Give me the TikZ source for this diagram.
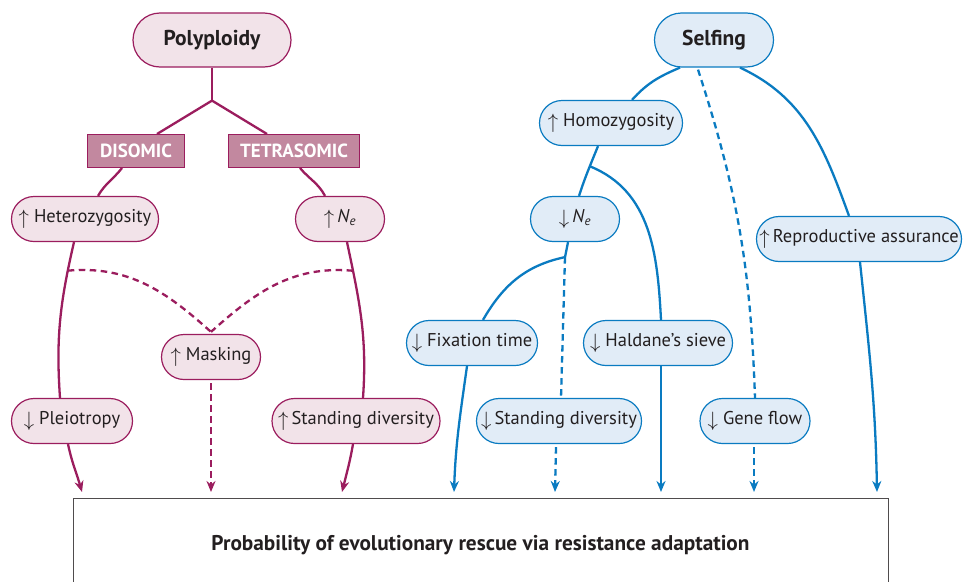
\documentclass[tikz,border=0pt]{standalone}
\usepackage{fontspec}
\setmainfont{PT Sans}
\usetikzlibrary{arrows.meta,shapes.misc}
\definecolor{plum}{HTML}{9B1D5E}
\definecolor{rose}{HTML}{C2889F}
\definecolor{pinkbg}{HTML}{F2E3E9}
\definecolor{sky}{HTML}{0A7BC1}
\definecolor{bluebg}{HTML}{E1ECF7}
\definecolor{ink}{HTML}{231F20}
\newcommand{\upar}{\raisebox{-1.5pt}{\fontsize{22}{22}\selectfont$\uparrow$}}
\newcommand{\dnar}{\raisebox{-1.5pt}{\fontsize{22}{22}\selectfont$\downarrow$}}
\newcommand{\Ne}{\textit{N}\textsubscript{\textit{e}}}

\begin{document}
\begin{tikzpicture}[x=1pt,y=1pt,
    pill/.style={rounded rectangle, draw, line width=1.2pt, minimum height=45pt,
      inner xsep=3pt, text=ink, font=\fontsize{18.5}{21}\selectfont},
    pinkpill/.style={pill, draw=plum, fill=pinkbg},
    bluepill/.style={pill, draw=sky, fill=bluebg},
    tag/.style={draw=plum, fill=rose, line width=1pt, minimum height=33pt,
      text=white, font=\fontsize{19}{21}\selectfont\bfseries},
    pinkline/.style={draw=plum, line width=2.3pt},
    blueline/.style={draw=sky, line width=2.3pt},
    tip/.style={-{Stealth[length=11pt,width=9pt,inset=3.5pt]}},
    dashline/.style={dash pattern=on 6.5pt off 4.5pt}]
  \useasboundingbox (0,0) rectangle (966,-581);

  % polyploidy side
  \node[pinkpill, minimum width=164pt, minimum height=54pt, font=\fontsize{21.5}{24}\selectfont\bfseries] (poly) at (212,-40) {Polyploidy};
  \node[tag, minimum width=97pt] (dis) at (136,-151) {DISOMIC};
  \node[tag, minimum width=131pt] (tetra) at (294,-151) {TETRASOMIC};
  \node[pinkpill, minimum width=153pt] (het) at (85,-219) {\upar\ Heterozygosity};
  \node[pinkpill, minimum width=95pt] (ne) at (340,-219) {\upar\,\Ne};
  \node[pinkpill, minimum width=105pt] (mask) at (211,-357) {\upar\ Masking};
  \node[pinkpill, minimum width=127pt] (pleio) at (72,-421) {\dnar\ Pleiotropy};
  \node[pinkpill, minimum width=174pt] (sdiv) at (356,-421) {\upar\,Standing diversity};

  % selfing side
  \node[bluepill, minimum width=125pt, minimum height=54pt, font=\fontsize{21.5}{24}\selectfont\bfseries] (self) at (714,-40) {Selfing};
  \node[bluepill, minimum width=149pt] (homo) at (611,-123) {\upar\ Homozygosity};
  \node[bluepill, minimum width=95pt] (nedown) at (575,-219) {\dnar\,\Ne};
  \node[bluepill, minimum width=211pt] (repro) at (859,-239) {\upar\,Reproductive assurance};
  \node[bluepill, minimum width=137pt] (fix) at (472,-343) {\dnar\ Fixation time};
  \node[bluepill, minimum width=155pt] (hald) at (658,-343) {\dnar\ Haldane’s sieve};
  \node[bluepill, minimum width=171pt] (sdivb) at (559,-421) {\dnar\,Standing diversity};
  \node[bluepill, minimum width=116pt] (gene) at (755,-421) {\dnar\ Gene flow};

  % outcome
  \node[draw=ink!80, line width=1pt, minimum width=815pt, minimum height=92pt,
    text=ink, font=\fontsize{21.3}{24}\selectfont\bfseries, text depth=0pt] (res) at (480.5,-544)
    {\raisebox{3pt}{Probability of evolutionary rescue via resistance adaptation}};
  \foreach \name/\x in {t1/82, t2/211, t3/342, t4/454, t5/555, t6/661, t7/754, t8/877}
    \coordinate (\name) at (\x,-492);

  % polyploidy connectors
  \draw[pinkline] (poly.south) -- ++(0,-33) coordinate (split);
  \draw[pinkline] (split) -- ([xshift=21pt]dis.north);
  \draw[pinkline] (split) -- ([xshift=-27pt]tetra.north);
  \draw[pinkline] ([xshift=-14pt]dis.south) to[out=-128,in=60] ([xshift=13pt]het.north);
  \draw[pinkline] ([xshift=6pt]tetra.south) to[out=-50,in=118] ([xshift=-15pt]ne.north);
  \draw[pinkline] ([xshift=-11pt]het.south) to[out=-103,in=94] coordinate[pos=0.17] (hk) ([xshift=-12pt]pleio.north);
  \draw[pinkline] ([xshift=7pt]ne.south) to[out=-78,in=86] coordinate[pos=0.17] (nk) ([xshift=7pt]sdiv.north);
  \draw[pinkline, dashline] (hk) to[out=5,in=138] ([yshift=2pt]mask.north);
  \draw[pinkline, dashline] (nk) to[out=175,in=42] ([yshift=2pt]mask.north);
  \draw[pinkline, tip] ([xshift=-4pt]pleio.south) to[out=-78,in=106] (t1);
  \draw[pinkline, dashline, tip] ([yshift=-3pt]mask.south) -- (t2);
  \draw[pinkline, tip] ([xshift=-3pt]sdiv.south) to[out=-100,in=76] (t3);

  % selfing connectors
  \draw[blueline] ([xshift=-34pt]self.south) to[out=-157,in=48] ([xshift=21pt]homo.north);
  \draw[blueline, dashline] ([xshift=-16pt,yshift=-2pt]self.south) to[out=-72,in=92] (gene.north);
  \draw[blueline] ([xshift=26pt]self.south) to[out=-25,in=110] ([xshift=-10pt]repro.north);
  \draw[blueline] ([xshift=-13pt]homo.south) to[out=-112,in=72] coordinate[pos=0.4] (hb) ([xshift=4pt]nedown.north);
  \draw[blueline] (hb) to[out=-22,in=93] ([xshift=3pt]hald.north);
  \draw[blueline] ([xshift=-7pt]nedown.south) -- ++(-3,-15) coordinate (nb);
  \draw[blueline] (nb) to[out=-168,in=60] ([xshift=11pt]fix.north);
  \draw[blueline, dashline] (nb) -- ([xshift=2pt]sdivb.north);
  \draw[blueline, tip] ([xshift=-5pt]fix.south) to[out=-98,in=88] (t4);
  \draw[blueline, dashline, tip] ([xshift=-3pt,yshift=-3pt]sdivb.south) -- (t5);
  \draw[blueline, tip] ([xshift=3pt]hald.south) -- (t6);
  \draw[blueline, dashline, tip] ([xshift=-1pt,yshift=-3pt]gene.south) -- (t7);
  \draw[blueline, tip] ([xshift=1pt]repro.south) to[out=-84,in=91] (t8);
\end{tikzpicture}
\end{document}
